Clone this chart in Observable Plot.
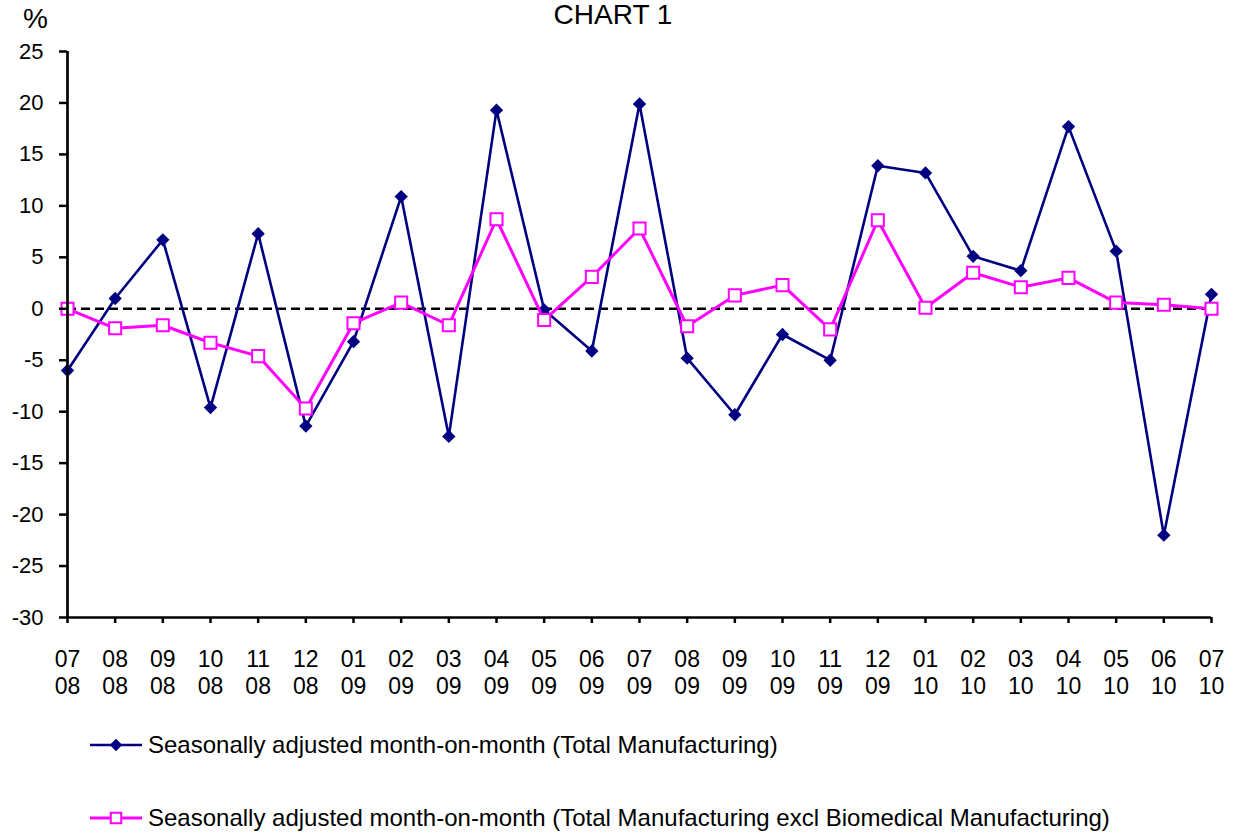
<!DOCTYPE html>
<html>
<head>
<meta charset="utf-8">
<script src="https://cdn.jsdelivr.net/npm/d3@7"></script>
<script src="https://cdn.jsdelivr.net/npm/@observablehq/plot@0.6"></script>
<style>
  html, body { margin: 0; padding: 0; background: #fff; }
  #wrap { position: relative; width: 1237px; height: 836px; font-family: "Liberation Sans", Arial, sans-serif; color: #000; overflow: hidden; }
  #title { position: absolute; left: 0; width: 1226px; text-align: center; top: 1px; font-size: 28px; line-height: 28px; }
  #pct { position: absolute; left: 23px; top: 3px; font-size: 28px; line-height: 32px; }
  #chart { position: absolute; left: 0; top: 0; }
  .leg { position: absolute; left: 88px; display: flex; align-items: center; font-size: 24px; white-space: nowrap; }
  .leg svg { margin-right: 4px; }
</style>
</head>
<body>
<div id="wrap">
  <div id="chart"></div>
  <div id="title">CHART 1</div>
  <div id="pct">%</div>
  <div class="leg" id="leg1" style="top:731px"></div>
  <div class="leg" id="leg2" style="top:804px"></div>
</div>
<script>
const months = ["07","08","09","10","11","12","01","02","03","04","05","06","07","08","09","10","11","12","01","02","03","04","05","06","07"];
const years  = ["08","08","08","08","08","08","09","09","09","09","09","09","09","09","09","09","09","09","10","10","10","10","10","10","10"];
const totalMfg = [-6.0, 1.0, 6.7, -9.6, 7.3, -11.4, -3.2, 10.9, -12.4, 19.3, -0.1, -4.1, 19.9, -4.8, -10.3, -2.5, -5.0, 13.9, 13.2, 5.1, 3.7, 17.7, 5.6, -22.0, 1.4];
const exclBio  = [0.0, -1.9, -1.6, -3.3, -4.6, -9.7, -1.4, 0.6, -1.6, 8.7, -1.1, 3.1, 7.8, -1.7, 1.3, 2.3, -2.0, 8.6, 0.1, 3.5, 2.1, 3.0, 0.6, 0.4, 0.0];
const yTicks = [-30, -25, -20, -15, -10, -5, 0, 5, 10, 15, 20, 25];
const seriesNames = [
  "Seasonally adjusted month-on-month (Total Manufacturing)",
  "Seasonally adjusted month-on-month (Total Manufacturing excl Biomedical Manufacturing)"
];
const navy = "#000080", magenta = "#FF00FF";

const labels = months.map((m, i) => m + "\n" + years[i]);
const idx = labels.map((_, i) => i);
const dTotal = labels.map((l, i) => ({i, value: totalMfg[i]}));
const dExcl = labels.map((l, i) => ({i, value: exclBio[i]}));

const chart = Plot.plot({
  width: 1237,
  height: 705,
  marginLeft: 67,
  marginRight: 26,
  marginTop: 51,
  marginBottom: 88,
  style: {fontFamily: "'Liberation Sans', Arial, sans-serif", background: "transparent", color: "#000"},
  x: {type: "linear", domain: [0, labels.length - 1], range: [67, 1211]},
  y: {domain: [-30, 25], range: [617, 51]},
  marks: [
    Plot.ruleY([0], {stroke: "#000", strokeWidth: 2.5, strokeDasharray: "9,5"}),
    Plot.line(dTotal, {x: "i", y: "value", stroke: navy, strokeWidth: 2.6}),
    Plot.dot(dTotal, {x: "i", y: "value", symbol: "diamond2", fill: navy, r: 6}),
    Plot.line(dExcl, {x: "i", y: "value", stroke: magenta, strokeWidth: 3}),
    Plot.dot(dExcl, {x: "i", y: "value", symbol: "square", fill: "#fff", stroke: magenta, strokeWidth: 2, r: 6.8}),
    Plot.ruleY([-30], {stroke: "#000", strokeWidth: 2.7}),
    Plot.ruleX([0], {stroke: "#000", strokeWidth: 2.7}),
    Plot.axisY({ticks: yTicks, tickSize: 8, tickPadding: 16, fontSize: 22, strokeWidth: 2.5, label: null, tickFormat: d => String(d)}),
    Plot.axisX({ticks: idx, tickFormat: i => labels[i], tickSize: 6, tickPadding: 24, fontSize: 23, lineHeight: 1.19, strokeWidth: 2.5, label: null})
  ]
});
document.getElementById("chart").appendChild(chart);

function swatch(color, symbolType) {
  const ns = "http://www.w3.org/2000/svg";
  const svg = document.createElementNS(ns, "svg");
  svg.setAttribute("width", 56); svg.setAttribute("height", 20);
  const line = document.createElementNS(ns, "line");
  line.setAttribute("x1", 2); line.setAttribute("x2", 54); line.setAttribute("y1", 10); line.setAttribute("y2", 10);
  line.setAttribute("stroke", color); line.setAttribute("stroke-width", symbolType === "square" ? 3 : 2.5);
  svg.appendChild(line);
  const p = document.createElementNS(ns, "path");
  if (symbolType === "square") {
    p.setAttribute("d", d3.symbol(d3.symbolSquare, 110)());
    p.setAttribute("fill", "#fff"); p.setAttribute("stroke", color); p.setAttribute("stroke-width", 2);
  } else {
    p.setAttribute("d", d3.symbol(d3.symbolDiamond2, 100)());
    p.setAttribute("fill", color);
  }
  p.setAttribute("transform", "translate(28,10)");
  svg.appendChild(p);
  return svg;
}
const l1 = document.getElementById("leg1"), l2 = document.getElementById("leg2");
l1.appendChild(swatch(navy, "diamond")); l1.appendChild(document.createTextNode(seriesNames[0]));
l2.appendChild(swatch(magenta, "square")); l2.appendChild(document.createTextNode(seriesNames[1]));
</script>
</body>
</html>
